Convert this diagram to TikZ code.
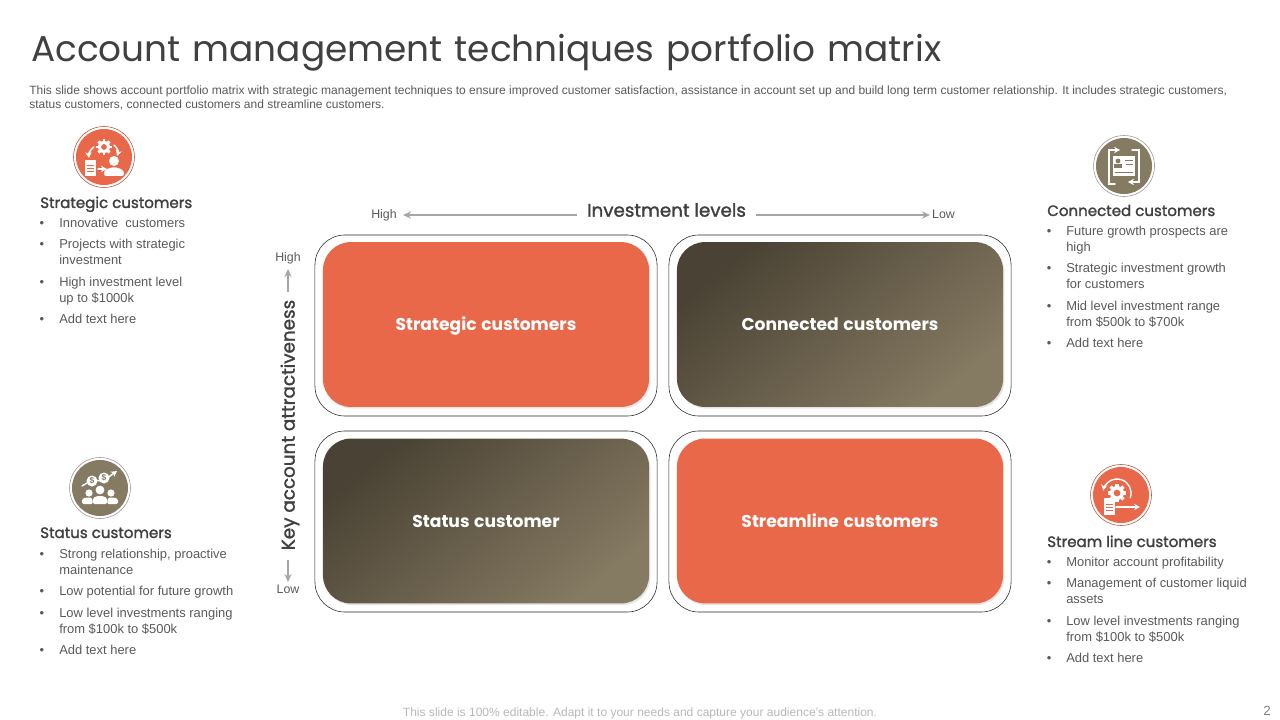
\documentclass[tikz,border=0pt]{standalone}
\usepackage{fontspec}
\setmainfont{Liberation Sans}
\newfontfamily\headfont{Poppins}
\newfontfamily\wordfont[WordSpace=1.25]{Poppins}
\newfontfamily\semifont[FakeBold=1.6]{Poppins}
\usetikzlibrary{arrows.meta,shadows}
\definecolor{accent}{HTML}{E9684A}
\definecolor{earth}{HTML}{857A62}
\definecolor{earthdark}{HTML}{4A4234}
\definecolor{inktext}{HTML}{404040}
\definecolor{bodytext}{HTML}{595959}
\newcommand{\gearmark}[4]{%
  \foreach \a in {0,45,...,315}{\fill[white,rotate around={\a:(#1,#2)}] (#1-#3*0.24,#2-#3*1.3) rectangle (#1+#3*0.24,#2);}
  \fill[white] (#1,#2) circle[radius=#3];
  \fill[#4] (#1,#2) circle[radius=#3*0.48];
}
\begin{document}
\begin{tikzpicture}[x=0.025cm,y=-0.025cm]
\tikzset{
  titletext/.style={anchor=base west,inner sep=0pt,text=inktext,font=\wordfont\fontsize{25.5}{30}\selectfont},
  introtext/.style={anchor=north west,inner sep=0pt,align=left,text=bodytext,font=\fontsize{8.53}{9.3}\selectfont},
  headtext/.style={anchor=base west,inner sep=0pt,text=inktext,font=\semifont\fontsize{10.7}{13}\selectfont},
  itemtext/.style={anchor=north west,inner sep=0pt,align=left,text=bodytext,font=\fontsize{9.2}{11.4}\selectfont,execute at begin node=\strut},
  itemmark/.style={inner sep=0pt,text=bodytext,font=\fontsize{9.2}{11.4}\selectfont},
  axistext/.style={inner sep=0pt,text=bodytext,font=\fontsize{8.8}{11}\selectfont},
  axishead/.style={inner sep=0pt,text=inktext,font=\semifont\fontsize{13}{15}\selectfont},
  axisarrow/.style={draw=black!35,line width=1pt,-{Stealth[length=2mm,width=1.8mm]}},
  frame/.style={draw=black!85,line width=0.4pt,rounded corners=0.75cm,minimum width=8.55cm,minimum height=4.525cm,inner sep=0pt},
  cell/.style={rounded corners=0.7cm,minimum width=8.15cm,minimum height=4.12cm,inner sep=0pt,text=white,text height=12pt,text depth=3pt,
    font=\headfont\bfseries\fontsize{12.2}{16}\selectfont,drop shadow={fill=black!10,opacity=1,shadow xshift=1pt,shadow yshift=-1.2pt}},
  hotcell/.style={cell,fill=accent},
  coolcell/.style={cell,left color=earthdark,right color=earth,shading angle=40},
  ringmark/.style={fill=white,draw=black!40,line width=0.4pt},
  iconline/.style={draw=white,line width=1pt,line cap=round},
  icontip/.style={iconline,-{Stealth[length=1.5mm,width=1.6mm]}}
}
\useasboundingbox (0,0) rectangle (1280,720);
\node[titletext] (title) at (31,62) {Account management techniques portfolio matrix};
\node[introtext] (intro) at (29,86) {This slide shows account portfolio matrix with strategic management techniques to ensure improved customer satisfaction, assistance in account set up and build long term customer relationship. It includes strategic customers,\\status customers, connected customers and streamline customers.};
% matrix
\node[frame] (frame_a) at (486,325.5) {};
\node[frame] (frame_b) at (840,325.5) {};
\node[frame] (frame_c) at (486,521.5) {};
\node[frame] (frame_d) at (840,521.5) {};
\node[hotcell] (cell_a) at (486,324.5) {Strategic customers};
\node[coolcell] (cell_b) at (840,324.5) {Connected customers};
\node[coolcell] (cell_c) at (486,521) {Status customer};
\node[hotcell] (cell_d) at (840,521) {Streamline customers};
% axes
\node[axishead] (axis_x) at (666.5,210) {Investment levels};
\node[axistext] (x_high) at (384,215) {High};
\node[axistext] (x_low) at (943.5,214.5) {Low};
\node[axishead,rotate=90,font=\semifont\fontsize{13.05}{15}\selectfont] (axis_y) at (290,425) {Key account attractiveness};
\node[axistext] (y_high) at (288,258) {High};
\node[axistext] (y_low) at (288,589) {Low};
\coordinate (x_high_tip) at (403,215);
\coordinate (x_low_tip) at (930,215);
\coordinate (y_high_tip) at (288,269);
\coordinate (y_low_tip) at (288,582);
\draw[axisarrow] (axis_x.west |- x_high_tip) ++(-10,0) -- (x_high_tip);
\draw[axisarrow] (axis_x.east |- x_low_tip) ++(10,0) -- (x_low_tip);
\draw[axisarrow] (axis_y.east) ++(-2,-8) -- (y_high_tip);
\draw[axisarrow] (axis_y.west) ++(-2,10) -- (y_low_tip);
% side headings
\node[headtext] (head_a) at (40,208) {Strategic customers};
\node[headtext] (head_b) at (1047,216) {Connected customers};
\node[headtext] (head_c) at (40,538) {Status customers};
\node[headtext] (head_d) at (1047,547) {Stream line customers};
% side lists
\foreach \n/\x/\y/\m/\txt in {
  a1/59/223/224/Innovative\ \ customers,
  a2/59/246/245/{Projects with strategic\\investment},
  a3/59/284/283/{High investment level\\up to \$1000k},
  a4/59/319/320/Add text here,
  b1/1066/233/232/{Future growth prospects are\\high},
  b2/1066/270/269/{Strategic investment growth\\for customers},
  b3/1066/308/307/{Mid level investment range\\from \$500k to \$700k},
  b4/1066/343/344/Add text here,
  c1/59/556/555/{Strong relationship, proactive\\maintenance},
  c2/59/591/592/Low potential for future growth,
  c3/59/615/614/{Low level investments ranging\\from \$100k to \$500k},
  c4/59/650/651/Add text here,
  d1/1066/562/563/Monitor account profitability,
  d2/1066/585/584/{Management of customer liquid\\assets},
  d3/1066/623/622/{Low level investments ranging\\from \$100k to \$500k},
  d4/1066/658/659/Add text here}{
  \node[itemtext] (item_\n) at (\x,\y-7) {\txt};
  \node[itemmark] (mark_\n) at (\x-17,\m) {•};
}
% footer
\node[inner sep=0pt,text=black!28,font=\fontsize{8.55}{10}\selectfont] (footer) at (640,713) {This slide is 100\% editable. Adapt it to your needs and capture your audience's attention.};
\node[inner sep=0pt,text=black!50,font=\fontsize{9.5}{11}\selectfont] (pageno) at (1267,711) {2};
% icon strategic
\begin{scope}[shift={(104,157)}]
\draw[ringmark,draw=accent!80!black] (0,0) circle[radius=30.5];
\fill[accent] (0,0) circle[radius=28];
\gearmark{0}{-10}{6}{accent}
\draw[icontip] (-10,-10) to[bend right=30] (-15,1);
\draw[icontip] (10,-12) to[bend left=35] (13,-1);
\fill[white] (-19,3) rectangle (-8,19);
\draw[accent,line width=0.6pt] (-17,8) -- (-10,8) (-17,11) -- (-10,11) (-17,14) -- (-10,14);
\draw[icontip] (-6,12) -- (3,12);
\fill[white] (10,4) circle[radius=5];
\fill[white,rounded corners=1.5pt] (0,19) -- (0,14) -- (6,10.5) -- (14,10.5) -- (20,14) -- (20,19) -- cycle;
\end{scope}
% icon connected
\begin{scope}[shift={(1124,166)}]
\draw[ringmark] (0,0) circle[radius=30.5];
\fill[earth] (0,0) circle[radius=28];
\fill[white] (-11,-10) rectangle (11,10);
\fill[earth] (-6,-5) circle[radius=2.4];
\fill[earth] (-10,2) rectangle (-2,-1.5);
\draw[earth,line width=0.6pt] (1,-6) -- (9,-6) (2,-2) -- (9,-2) (-9,6) -- (9,6);
\draw[icontip] (-9,18) -- (-15,18) -- (-15,-16) -- (-4,-16);
\draw[icontip] (8,-16) -- (15,-16) -- (15,16) -- (4,16);
\end{scope}
% icon status
\begin{scope}[shift={(100,488)}]
\draw[ringmark] (0,0) circle[radius=30.5];
\fill[earth] (0,0) circle[radius=28];
\draw[icontip] (-18,-2) -- (-8,-8) -- (3,-7) -- (17,-17);
\fill[white] (-8,-7) circle[radius=5.5];
\fill[white] (4,-10) circle[radius=5.5];
\node[inner sep=0pt,text=earth,font=\bfseries\fontsize{6}{6}\selectfont] (coin_a) at (-8,-7) {\$};
\node[inner sep=0pt,text=earth,font=\bfseries\fontsize{6}{6}\selectfont] (coin_b) at (4,-10) {\$};
\foreach \hx/\hy/\hr in {-11/5/3.6,11/5/3.6,0/2/4.4}{
  \fill[white] (\hx,\hy) circle[radius=\hr];
}
\fill[white,rounded corners=1pt] (-18,16) -- (-18,11) -- (-14,9.5) -- (-8,9.5) -- (-7,16) -- cycle;
\fill[white,rounded corners=1pt] (18,16) -- (18,11) -- (14,9.5) -- (8,9.5) -- (7,16) -- cycle;
\fill[white,rounded corners=1pt] (-7,16) -- (-7,10) -- (-3,8) -- (3,8) -- (7,10) -- (7,16) -- cycle;
\end{scope}
% icon streamline
\begin{scope}[shift={(1121,495)}]
\draw[ringmark,draw=accent!80!black] (0,0) circle[radius=30.5];
\fill[accent] (0,0) circle[radius=28];
\gearmark{-4}{-2}{7}{accent}
\draw[icontip] (9.2,2.8) arc[start angle=20,end angle=-170,radius=14];
\fill[white] (-17,3) rectangle (-6,20);
\draw[accent,line width=0.6pt] (-15,9) -- (-8,9) (-15,12) -- (-8,12) (-15,15) -- (-8,15);
\draw[icontip] (-5,12) -- (19,12);
\end{scope}
\end{tikzpicture}
\end{document}
